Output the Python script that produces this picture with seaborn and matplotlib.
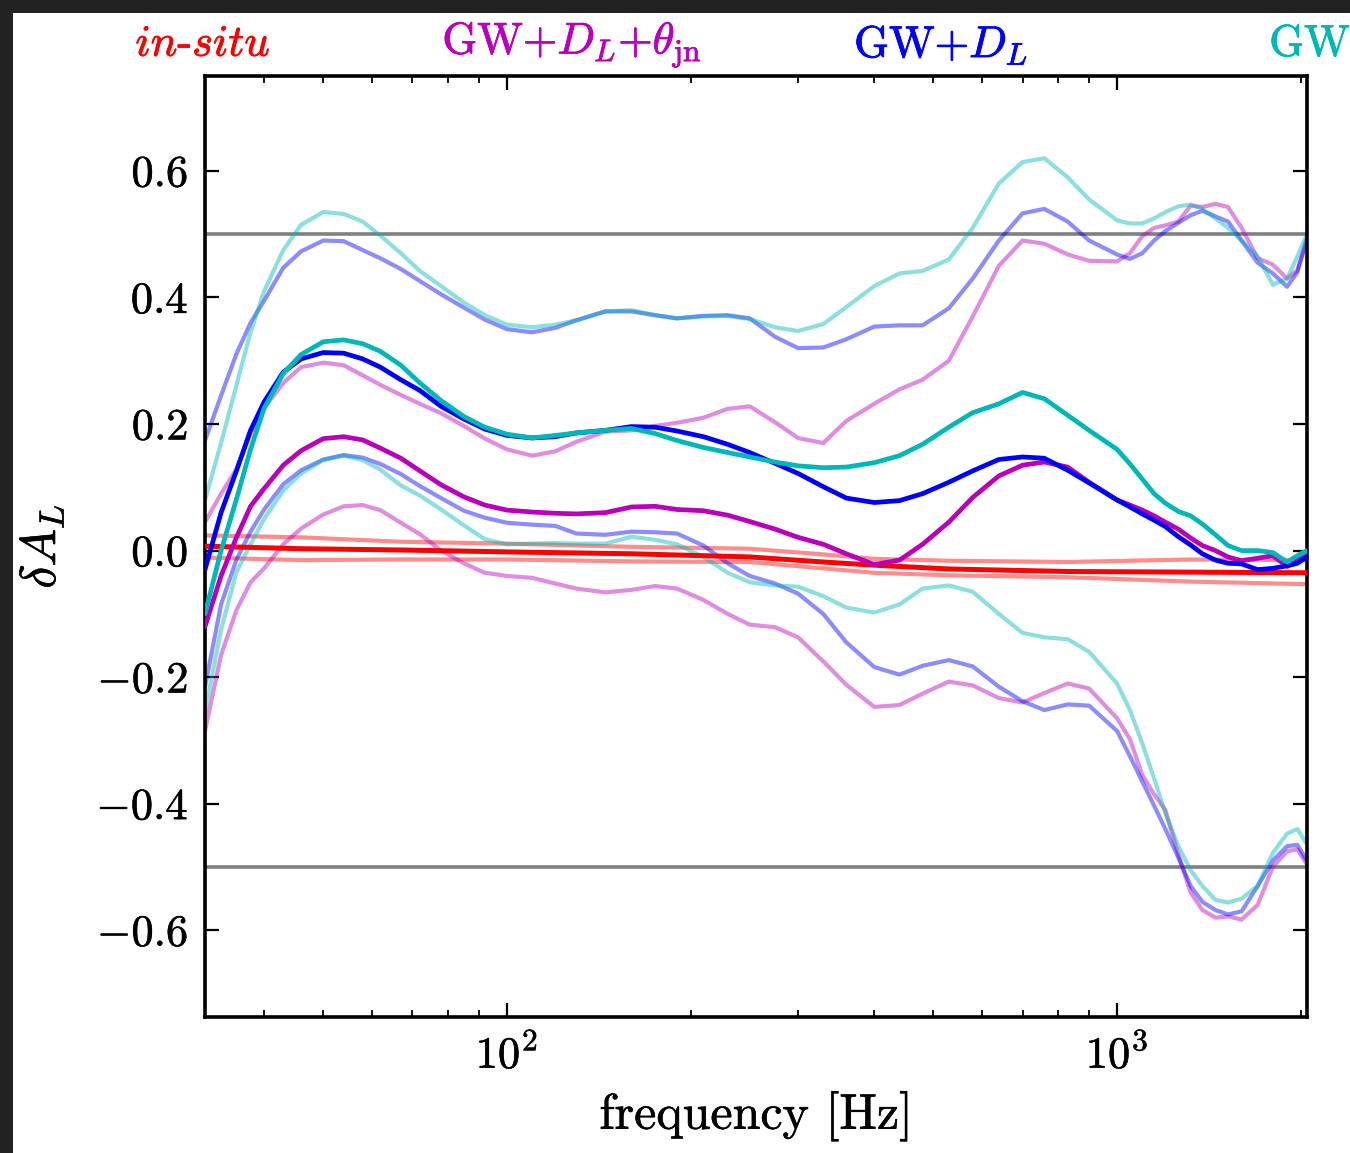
import numpy as np
import pandas as pd
import matplotlib
matplotlib.use("Agg")
import matplotlib.pyplot as plt
import matplotlib.patheffects as pe
from matplotlib.patches import Rectangle
from matplotlib.ticker import LogLocator
import seaborn as sns

# ---------------- data ----------------
FREQ = [32, 34, 36, 38, 40, 43, 46, 50, 54, 58, 62, 67, 72, 78, 85, 92, 100, 110, 120, 130,
        145, 160, 175, 190, 210, 230, 250, 275, 300, 330, 360, 400, 440, 480, 530, 580, 640,
        700, 760, 830, 900, 1000, 1050, 1100, 1150, 1200, 1260, 1320, 1380, 1450, 1520, 1600,
        1700, 1800, 1900, 1975, 2048]

GW_UP = [0.08, 0.17, 0.26, 0.345, 0.41, 0.475, 0.515, 0.535, 0.532, 0.52, 0.498, 0.47, 0.442,
         0.418, 0.392, 0.372, 0.357, 0.353, 0.357, 0.364, 0.378, 0.38, 0.372, 0.367, 0.37, 0.371,
         0.366, 0.353, 0.347, 0.358, 0.385, 0.418, 0.438, 0.442, 0.46, 0.51, 0.58, 0.614, 0.62,
         0.59, 0.555, 0.522, 0.517, 0.517, 0.525, 0.535, 0.544, 0.547, 0.54, 0.525, 0.51, 0.49,
         0.465, 0.42, 0.43, 0.465, 0.50]
GW_MED = [-0.10, 0.0, 0.08, 0.16, 0.225, 0.28, 0.31, 0.33, 0.333, 0.327, 0.315, 0.293, 0.265,
          0.237, 0.212, 0.195, 0.184, 0.178, 0.182, 0.186, 0.19, 0.193, 0.185, 0.174, 0.163, 0.155,
          0.148, 0.14, 0.134, 0.131, 0.132, 0.139, 0.15, 0.168, 0.195, 0.218, 0.232, 0.25, 0.24,
          0.214, 0.19, 0.16, 0.137, 0.113, 0.09, 0.075, 0.062, 0.055, 0.042, 0.025, 0.008, 0.0,
          0.0, -0.003, -0.018, -0.008, 0.0]
GW_LO = [-0.255, -0.125, -0.035, 0.01, 0.05, 0.095, 0.122, 0.143, 0.15, 0.143, 0.128, 0.103,
         0.087, 0.065, 0.04, 0.018, 0.01, 0.011, 0.012, 0.011, 0.011, 0.022, 0.017, 0.01, -0.01,
         -0.035, -0.05, -0.055, -0.057, -0.072, -0.09, -0.098, -0.085, -0.06, -0.055, -0.065,
         -0.10, -0.13, -0.137, -0.14, -0.16, -0.21, -0.252, -0.305, -0.36, -0.415, -0.467, -0.505,
         -0.53, -0.552, -0.556, -0.55, -0.53, -0.478, -0.447, -0.44, -0.464]

DL_UP = [0.174, 0.245, 0.31, 0.36, 0.395, 0.447, 0.473, 0.49, 0.489, 0.475, 0.462, 0.445, 0.426,
         0.405, 0.384, 0.365, 0.35, 0.345, 0.352, 0.364, 0.378, 0.378, 0.372, 0.367, 0.371, 0.372,
         0.367, 0.338, 0.32, 0.321, 0.334, 0.354, 0.356, 0.356, 0.383, 0.43, 0.49, 0.533, 0.54,
         0.52, 0.49, 0.468, 0.461, 0.47, 0.49, 0.505, 0.518, 0.53, 0.537, 0.528, 0.52, 0.49,
         0.455, 0.438, 0.417, 0.44, 0.495]
DL_MED = [-0.03, 0.06, 0.125, 0.19, 0.235, 0.282, 0.303, 0.313, 0.312, 0.303, 0.29, 0.27, 0.253,
          0.228, 0.208, 0.192, 0.182, 0.178, 0.18, 0.186, 0.19, 0.196, 0.195, 0.189, 0.18, 0.168,
          0.155, 0.138, 0.122, 0.101, 0.083, 0.076, 0.079, 0.09, 0.108, 0.126, 0.144, 0.148, 0.146,
          0.127, 0.107, 0.08, 0.069, 0.058, 0.048, 0.038, 0.022, 0.009, -0.005, -0.015, -0.02,
          -0.021, -0.03, -0.028, -0.024, -0.02, -0.01]
DL_LO = [-0.215, -0.085, -0.015, 0.03, 0.065, 0.105, 0.127, 0.144, 0.151, 0.147, 0.137, 0.121,
         0.102, 0.083, 0.063, 0.052, 0.044, 0.041, 0.039, 0.027, 0.025, 0.03, 0.029, 0.027, 0.008,
         -0.02, -0.04, -0.052, -0.068, -0.10, -0.145, -0.184, -0.196, -0.182, -0.173, -0.183,
         -0.215, -0.238, -0.252, -0.243, -0.245, -0.285, -0.325, -0.365, -0.403, -0.44, -0.485,
         -0.53, -0.555, -0.568, -0.575, -0.57, -0.53, -0.49, -0.467, -0.465, -0.49]

TH_UP = [0.045, 0.09, 0.128, 0.185, 0.225, 0.265, 0.29, 0.297, 0.293, 0.277, 0.262, 0.246, 0.232,
         0.217, 0.197, 0.177, 0.16, 0.15, 0.157, 0.172, 0.188, 0.19, 0.197, 0.202, 0.21, 0.224,
         0.228, 0.203, 0.178, 0.17, 0.205, 0.232, 0.255, 0.27, 0.30, 0.37, 0.45, 0.49, 0.485,
         0.468, 0.458, 0.457, 0.47, 0.497, 0.51, 0.514, 0.52, 0.545, 0.543, 0.548, 0.543, 0.51,
         0.462, 0.452, 0.43, 0.443, 0.49]
TH_MED = [-0.12, -0.04, 0.02, 0.07, 0.098, 0.135, 0.158, 0.177, 0.18, 0.175, 0.162, 0.146, 0.126,
          0.104, 0.085, 0.072, 0.064, 0.061, 0.059, 0.058, 0.06, 0.069, 0.07, 0.065, 0.063, 0.056,
          0.046, 0.034, 0.021, 0.01, -0.005, -0.022, -0.015, 0.01, 0.045, 0.084, 0.118, 0.135,
          0.14, 0.132, 0.108, 0.08, 0.072, 0.064, 0.055, 0.045, 0.034, 0.02, 0.008, 0.0, -0.01,
          -0.016, -0.012, -0.008, -0.025, -0.015, -0.008]
TH_LO = [-0.285, -0.165, -0.095, -0.05, -0.028, 0.01, 0.035, 0.057, 0.07, 0.072, 0.064, 0.044,
         0.026, 0.0, -0.02, -0.035, -0.04, -0.043, -0.052, -0.06, -0.066, -0.062, -0.056, -0.06,
         -0.078, -0.10, -0.117, -0.121, -0.137, -0.175, -0.212, -0.247, -0.244, -0.226, -0.207,
         -0.213, -0.233, -0.24, -0.225, -0.21, -0.218, -0.265, -0.298, -0.355, -0.385, -0.41,
         -0.48, -0.54, -0.568, -0.58, -0.578, -0.583, -0.56, -0.50, -0.475, -0.472, -0.496]

FREQ_INSITU = [32, 46, 67, 100, 160, 250, 330, 400, 530, 830, 1320, 2048]
INSITU_UP = [0.024, 0.021, 0.014, 0.011, 0.006, 0.003, -0.006, -0.013, -0.016, -0.018, -0.014, -0.015]
INSITU_MED = [0.007, 0.003, 0.001, -0.002, -0.005, -0.01, -0.018, -0.023, -0.029, -0.033, -0.034, -0.035]
INSITU_LO = [-0.011, -0.015, -0.014, -0.014, -0.017, -0.018, -0.028, -0.035, -0.039, -0.042, -0.049, -0.053]

HLINES = [0.5, -0.5]
YTICKS = [-0.6, -0.4, -0.2, 0.0, 0.2, 0.4, 0.6]
LABELS = [r'$\mathit{in}$-$\mathit{situ}$', r'$\mathrm{GW}{+}D_L{+}\theta_{\rm jn}$',
          r'$\mathrm{GW}{+}D_L$', r'$\mathrm{GW}$']

# ---------------- style ----------------
sns.set_style("ticks")
plt.rcParams.update({
    "mathtext.fontset": "cm",
    "font.family": ["serif"],
    "font.serif": ["cmr10", "DejaVu Serif"],
    "axes.formatter.use_mathtext": True,
    "axes.unicode_minus": True,
    "text.color": "black",
    "axes.labelcolor": "black",
    "xtick.color": "black",
    "ytick.color": "black",
})

W, H = 1350, 1153
fig = plt.figure(figsize=(W / 100, H / 100), dpi=100)
fig.patch.set_facecolor("#222222")
bg = Rectangle((13 / W, 0), 1 - 13 / W, 1 - 13 / H, transform=fig.transFigure,
               facecolor="white", edgecolor="none", zorder=-10)
fig.patches.append(bg)

ax = fig.add_axes([205 / W, 1 - 1017 / H, (1307 - 205) / W, (1017 - 76) / H])
ax.set_facecolor("white")
ax.set_zorder(1)

RED, MAG, BLU, CYA = "#ff0000", "#bb00bb", "#0000ff", "#00b8b8"
LW_LIGHT = 3.0
LW_MED = 3.4
ALPHA = 0.45

for y in HLINES:
    ax.axhline(y, color="#808080", linewidth=2.6, zorder=1)

groups = [
    (FREQ_INSITU, INSITU_UP, INSITU_MED, INSITU_LO, RED),
    (FREQ, TH_UP, TH_MED, TH_LO, MAG),
    (FREQ, DL_UP, DL_MED, DL_LO, BLU),
    (FREQ, GW_UP, GW_MED, GW_LO, CYA),
]
for fr, up, med, lo, col in groups:
    for arr in (up, lo):
        sns.lineplot(x=fr, y=arr, ax=ax, color=col, alpha=ALPHA, linewidth=LW_LIGHT,
                     estimator=None, sort=False, zorder=2)
for fr, up, med, lo, col in groups:
    sns.lineplot(x=fr, y=med, ax=ax, color=col, linewidth=LW_MED if col != RED else 3.6,
                 estimator=None, sort=False, zorder=3)

ax.set_xscale("log")
ax.set_xlim(32, 2048)
ax.set_ylim(-0.737, 0.75)
ax.set_yticks(YTICKS)
ax.xaxis.set_major_locator(LogLocator(base=10, numticks=10))
ax.xaxis.set_minor_locator(LogLocator(base=10, subs=np.arange(2, 10), numticks=20))

for s in ax.spines.values():
    s.set_linewidth(2.6)
    s.set_color("black")
    s.set_visible(True)

ax.tick_params(axis="both", which="major", direction="in", length=10, width=1.6,
               top=True, right=True, labelsize=32, pad=12, colors="black")
ax.tick_params(axis="both", which="minor", direction="in", length=5, width=1.3,
               top=True, right=True)
ax.tick_params(axis="y", which="minor", left=False, right=False)

ax.set_xlabel("frequency [Hz]", fontsize=36, labelpad=10, color="black")
ax.set_ylabel(r"$\delta A_L$", fontsize=36, labelpad=22, color="black")

cols = [RED, MAG, BLU, CYA]
xs = [203, 572, 941, 1310]
for lab, c, xp in zip(LABELS, cols, xs):
    fig.text(xp / W, 1 - 45 / H, lab, color=c, fontsize=32, ha="center", va="center",
             path_effects=[pe.withStroke(linewidth=0.6, foreground=c)])

# slightly heavier strokes for the axis texts, like the reference rendering
for t in ax.get_xticklabels() + ax.get_yticklabels() + [ax.xaxis.label, ax.yaxis.label]:
    t.set_path_effects([pe.withStroke(linewidth=0.4, foreground="black")])

fig.savefig("out.png", dpi=100, facecolor=fig.get_facecolor())
